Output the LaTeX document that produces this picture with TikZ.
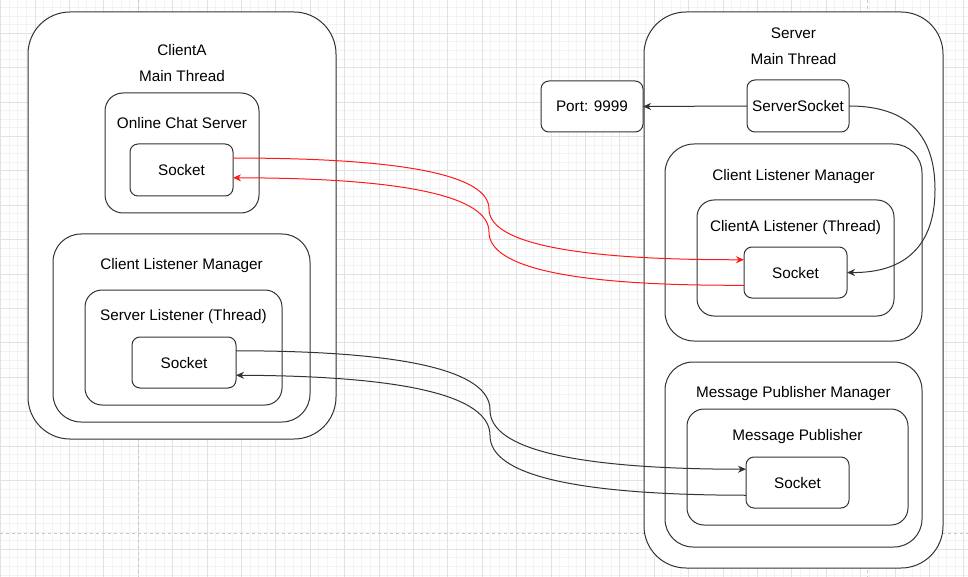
\documentclass[tikz,border=0pt]{standalone}
\usepackage{fontspec}
\setmainfont{Liberation Sans}
\usetikzlibrary{arrows.meta,calc}
\definecolor{linec}{RGB}{51,51,51}
\definecolor{gridminor}{RGB}{243,243,243}
\definecolor{gridmajor}{RGB}{226,226,226}
\definecolor{pagec}{RGB}{200,200,200}
\definecolor{redc}{RGB}{255,25,25}
\newcommand\mybox[6]{\node[box, minimum width=#4pt, minimum height=#5pt, rounded corners=#6pt] (#1) at (#2,#3) {};}
\begin{document}
\begin{tikzpicture}[x=1pt,y=-1pt,
  font=\fontsize{15.3}{18}\selectfont,
  box/.style={draw=linec, fill=white, line width=1pt, inner sep=0pt, outer sep=0pt},
  lbl/.style={inner sep=0pt, text height=11pt, text depth=0pt, anchor=center},
  conn/.style={draw=linec, line width=1pt, -{Stealth[length=8pt,width=7pt,inset=2.5pt]}},
  rconn/.style={conn, draw=redc}]
\useasboundingbox (0,0) rectangle (968,577);
\fill[white] (0,0) rectangle (968,577);
% grid
\foreach \i in {0,...,112} {\draw[gridminor, line width=0.7pt] ({0.6+8.6*\i},0) -- ({0.6+8.6*\i},577);}
\foreach \j in {0,...,67} {\draw[gridminor, line width=0.7pt] (0,{-1.2+8.6*\j}) -- (968,{-1.2+8.6*\j});}
\foreach \i in {0,...,28} {\draw[gridmajor, line width=0.8pt] ({0.6+34.4*\i},0) -- ({0.6+34.4*\i},577);}
\foreach \j in {0,...,17} {\draw[gridmajor, line width=0.8pt] (0,{-1.2+34.4*\j}) -- (968,{-1.2+34.4*\j});}
\draw[pagec, dashed, line width=0.8pt] (138,0) -- (138,577);
\draw[pagec, dashed, line width=0.8pt] (867,0) -- (867,577);
\draw[pagec, dashed, line width=0.8pt] (0,533) -- (968,533);
% client side
\mybox{cA}{182}{225.5}{308}{427}{42}
\mybox{ocs}{182}{153}{154}{120}{18}
\mybox{s1}{181.5}{170}{103}{52}{8}
\mybox{clmL}{181.5}{328}{257}{188}{28}
\mybox{sl}{183.5}{347.5}{197}{115}{17}
\mybox{s2}{184}{362.5}{104}{51}{8}
% server side
\mybox{srv}{793.5}{290}{299}{556}{42}
\mybox{port}{592}{106.5}{102}{51}{8}
\mybox{ss}{798}{106}{102}{52}{8}
\mybox{clmS}{793.5}{242.5}{257}{197}{29}
\mybox{cal}{795.5}{258}{197}{116}{17}
\mybox{s3}{795.5}{272.5}{103}{51}{8}
\mybox{mpm}{793.5}{454.5}{257}{185}{28}
\mybox{mp}{797.5}{467}{221}{116}{17}
\mybox{s4}{797.5}{482.5}{103}{51}{8}
% labels
\node[lbl] (tA1) at (182,50) {ClientA};
\node[lbl] (tA2) at (182,76) {Main Thread};
\node[lbl] (tocs) at (182,123) {Online Chat Server};
\node[lbl] (ts1) at (181.5,170) {Socket};
\node[lbl] (tclmL) at (181.5,264) {Client Listener Manager};
\node[lbl] (tsl) at (183.5,315) {Server Listener (Thread)};
\node[lbl] (ts2) at (184,362.5) {Socket};
\node[lbl] (tS1) at (793.5,33) {Server};
\node[lbl] (tS2) at (793.5,59) {Main Thread};
\node[lbl] (tport) at (592,106.5) {Port: 9999};
\node[lbl] (tss) at (798,106) {ServerSocket};
\node[lbl] (tclmS) at (793.5,175) {Client Listener Manager};
\node[lbl] (tcal) at (795.5,226) {ClientA Listener (Thread)};
\node[lbl] (ts3) at (795.5,272.5) {Socket};
\node[lbl] (tmpm) at (793.5,392) {Message Publisher Manager};
\node[lbl] (tmp) at (797.5,435) {Message Publisher};
\node[lbl] (ts4) at (797.5,482.5) {Socket};
% connector end points
\coordinate (s1o) at ($(s1.north east)!0.27!(s1.south east)$);
\coordinate (s1i) at ($(s1.north east)!0.65!(s1.south east)$);
\coordinate (s3i) at ($(s3.north west)!0.25!(s3.south west)$);
\coordinate (s3o) at ($(s3.north west)!0.75!(s3.south west)$);
\coordinate (s2o) at ($(s2.north east)!0.27!(s2.south east)$);
\coordinate (s2i) at ($(s2.north east)!0.75!(s2.south east)$);
\coordinate (s4i) at ($(s4.north west)!0.24!(s4.south west)$);
\coordinate (s4o) at ($(s4.north west)!0.75!(s4.south west)$);
% connectors
\draw[conn] (ss.west) -- (port.east);
\draw[conn] (ss.east) .. controls (906.3,106) and (935,133.8) .. (935,189.5)
  .. controls (935,245.2) and (905.7,273) .. (s3.east);
\draw[rconn] (s1o) .. controls (403.7,158) and (489,175) .. (489,209)
  .. controls (489,243) and (573.7,260) .. (s3i);
\draw[rconn] (s3o) .. controls (573.7,286) and (489,268) .. (489,232)
  .. controls (489,196) and (403.7,178) .. (s1i);
\draw[conn] (s2o) .. controls (405.3,351) and (490,370.7) .. (490,410)
  .. controls (490,449.3) and (575.3,469) .. (s4i);
\draw[conn] (s4o) .. controls (575.3,495) and (490,475.2) .. (490,435.5)
  .. controls (490,395.8) and (405.3,376) .. (s2i);
\end{tikzpicture}
\end{document}
